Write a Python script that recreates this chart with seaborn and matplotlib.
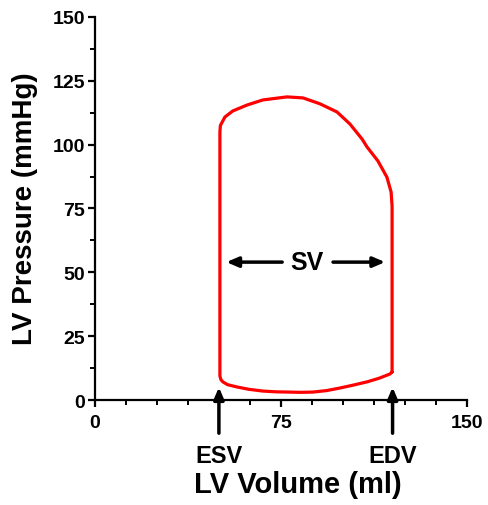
import seaborn as sns
import pandas as pd
import matplotlib.pyplot as plt

# Pressure-volume loop (ml, mmHg), in drawing order
volume = [119.8, 119.8, 119.4, 117.7, 114.1, 109.7, 107.7, 102.8, 97.6, 90.7,
          83.9, 77.4, 67.7, 61.3, 55.6, 52.4, 50.6, 50.4, 50.4, 50.8,
          51.6, 53.5, 57.3, 62.0, 67.7, 73.0, 78.6, 83.0, 87.9, 93.5,
          98.8, 104.0, 109.7, 114.5, 119.0, 119.8]
pressure = [11.0, 76.0, 81.5, 87.3, 93.6, 99.1, 102.2, 108.1, 112.8, 116.0,
            118.3, 118.7, 117.5, 115.5, 113.2, 110.8, 107.5, 105.0, 9.4, 8.0,
            7.1, 6.0, 5.1, 4.2, 3.5, 3.2, 3.1, 3.0, 3.1, 3.7,
            4.7, 5.8, 7.1, 8.5, 10.2, 11.0]
esv, edv = 50, 120
y_ticks = [0, 25, 50, 75, 100, 125, 150]
x_ticks = [0, 75, 150]

loop = pd.DataFrame({"volume": volume, "pressure": pressure})

sns.set_style("ticks")
plt.rcParams["font.family"] = ["Liberation Sans", "DejaVu Sans"]
plt.rcParams["font.weight"] = "bold"
plt.rcParams["text.color"] = "black"
plt.rcParams["xtick.color"] = "black"
plt.rcParams["ytick.color"] = "black"
plt.rcParams["axes.edgecolor"] = "black"

fig = plt.figure(figsize=(4.89, 5.06), dpi=100)
ax = fig.add_axes([0.194, 0.2075, 0.761, 0.757])

sns.lineplot(data=loop, x="volume", y="pressure", sort=False, estimator=None,
             color="red", linewidth=2.3, ax=ax)

ax.set_xlim(0, 150)
ax.set_ylim(0, 150)
ax.set_xticks(x_ticks)
ax.set_yticks(y_ticks)
ax.set_xticks([i * 12.5 for i in range(13)], minor=True)
ax.set_yticks([i * 12.5 for i in range(13)], minor=True)
ax.tick_params(which="major", length=5, width=1.6, labelsize=14, direction="out")
ax.tick_params(which="minor", length=3.5, width=1.4, direction="out")
ax.tick_params(axis="x", pad=5)
ax.tick_params(axis="y", pad=2)
for lab in ax.get_xticklabels() + ax.get_yticklabels():
    lab.set_fontweight("bold")

for s in ["top", "right"]:
    ax.spines[s].set_visible(False)
for s in ["left", "bottom"]:
    ax.spines[s].set_linewidth(1.6)

ax.set_xlabel("")
ax.set_ylabel("")
fig.text(298 / 489, 1 - 485 / 506, "LV Volume (ml)", ha="center", va="center",
         fontsize=21, fontweight="bold")
fig.text(25 / 489, 1 - 209 / 506, "LV Pressure (mmHg)", ha="center", va="center",
         rotation=90, fontsize=20, fontweight="bold")

arrow = dict(arrowstyle="-|>,head_length=0.7,head_width=0.3",
             color="black", lw=2.5, shrinkA=0, shrinkB=0)

# ESV / EDV markers below the axis
for v, name in [(esv, "ESV"), (edv, "EDV")]:
    ax.annotate("", xy=(v, 5), xytext=(v, -13), annotation_clip=False,
                arrowprops=arrow)
    ax.text(v, -21.8, name, ha="center", va="center", fontsize=17,
            fontweight="bold", clip_on=False)

# Stroke volume arrows
ax.annotate("", xy=(53, 54), xytext=(75.5, 54), arrowprops=arrow)
ax.annotate("", xy=(117, 54), xytext=(96, 54), arrowprops=arrow)
ax.text(85.5, 54, "SV", ha="center", va="center", fontsize=18, fontweight="bold")

fig.savefig("out.png", dpi=100)
